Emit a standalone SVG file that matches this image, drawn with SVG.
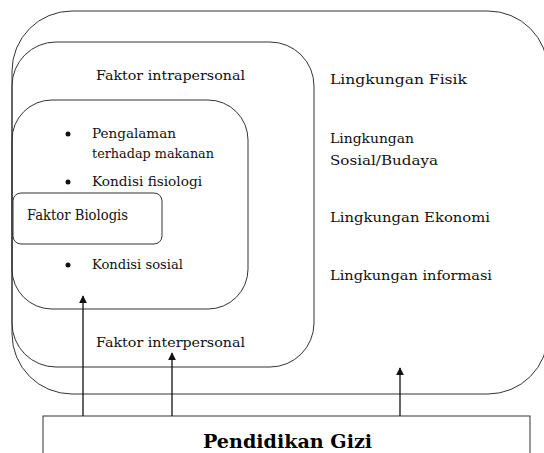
<svg xmlns="http://www.w3.org/2000/svg" width="544" height="453" viewBox="0 0 544 453">
  <style>
    .box { fill: none; stroke: #333; stroke-width: 1; }
    .solid { fill: #fff; stroke: #333; stroke-width: 1; }
    .lbl { font-family: "DejaVu Serif", "Liberation Serif", serif; font-size: 13.5px; fill: #111; }
    .bio { font-family: "DejaVu Serif", "Liberation Serif", serif; font-size: 14px; fill: #111; }
    .title { font-family: "DejaVu Serif", "Liberation Serif", serif; font-size: 19px; font-weight: bold; fill: #000; }
    .link { stroke: #111; stroke-width: 1.3; fill: none; }
  </style>
  <defs>
    <marker id="arrow" viewBox="0 0 10 10" refX="9" refY="5" markerWidth="8" markerHeight="8" markerUnits="userSpaceOnUse" orient="auto">
      <path d="M0,0 L10,5 L0,10 Z" fill="#111"/>
    </marker>
  </defs>
  <rect width="544" height="453" fill="#fff"/>

  <!-- environment layer -->
  <g id="lingkungan">
    <rect class="box" x="12" y="11" width="536" height="383" rx="60" ry="60"/>
    <text class="lbl" x="330" y="84" textLength="137" lengthAdjust="spacingAndGlyphs">Lingkungan Fisik</text>
    <text class="lbl" x="330" y="143" textLength="84" lengthAdjust="spacingAndGlyphs">Lingkungan</text>
    <text class="lbl" x="330" y="165" textLength="108" lengthAdjust="spacingAndGlyphs">Sosial/Budaya</text>
    <text class="lbl" x="330" y="222" textLength="160" lengthAdjust="spacingAndGlyphs">Lingkungan Ekonomi</text>
    <text class="lbl" x="330" y="280" textLength="162" lengthAdjust="spacingAndGlyphs">Lingkungan informasi</text>
  </g>

  <!-- interpersonal layer -->
  <g id="interpersonal">
    <rect class="box" x="12" y="42" width="302" height="325" rx="44" ry="44"/>
    <text class="lbl" x="96" y="80" textLength="149" lengthAdjust="spacingAndGlyphs">Faktor intrapersonal</text>
    <text class="lbl" x="96" y="347" textLength="149" lengthAdjust="spacingAndGlyphs">Faktor interpersonal</text>
  </g>

  <!-- intrapersonal layer -->
  <g id="intrapersonal">
    <rect class="box" x="12" y="100" width="236" height="209" rx="40" ry="40"/>
    <circle cx="68" cy="134" r="2.5" fill="#111"/>
    <text class="lbl" x="92" y="138" textLength="84" lengthAdjust="spacingAndGlyphs">Pengalaman</text>
    <text class="lbl" x="92" y="158" textLength="122" lengthAdjust="spacingAndGlyphs">terhadap makanan</text>
    <circle cx="68" cy="182" r="2.5" fill="#111"/>
    <text class="lbl" x="92" y="186" textLength="110" lengthAdjust="spacingAndGlyphs">Kondisi fisiologi</text>
    <circle cx="68" cy="265" r="2.5" fill="#111"/>
    <text class="lbl" x="92" y="269" textLength="91" lengthAdjust="spacingAndGlyphs">Kondisi sosial</text>
  </g>

  <!-- biological factor -->
  <g id="biologis">
    <rect class="solid" x="13" y="193" width="149" height="51" rx="8" ry="8"/>
    <text class="bio" x="27" y="220" textLength="101" lengthAdjust="spacingAndGlyphs">Faktor Biologis</text>
  </g>

  <!-- nutrition education -->
  <g id="pendidikan-gizi">
    <rect class="solid" x="43" y="416" width="487" height="60"/>
    <text class="title" x="203" y="448" textLength="169" lengthAdjust="spacingAndGlyphs">Pendidikan Gizi</text>
  </g>

  <g id="connectors">
    <line class="link" x1="83" y1="416" x2="83" y2="296" marker-end="url(#arrow)"/>
    <line class="link" x1="172" y1="416" x2="172" y2="353" marker-end="url(#arrow)"/>
    <line class="link" x1="400" y1="416" x2="400" y2="368" marker-end="url(#arrow)"/>
  </g>
</svg>
